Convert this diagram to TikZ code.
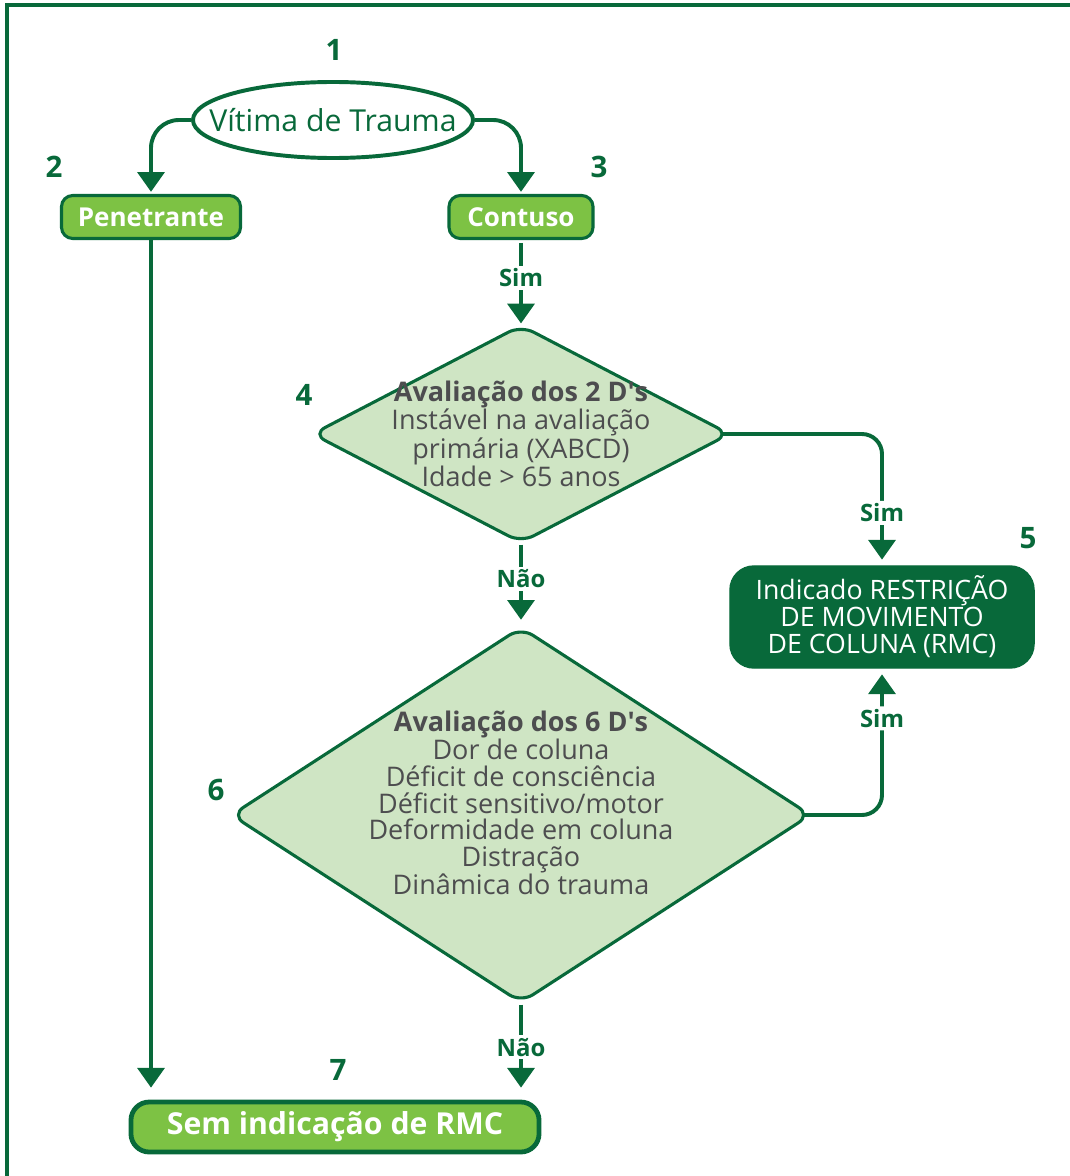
\documentclass[tikz,border=0pt]{standalone}
\usepackage{fontspec}
\setmainfont{Open Sans}
\usetikzlibrary{arrows.meta,positioning,calc,shapes.geometric}
\definecolor{rmcdark}{HTML}{08693A}
\definecolor{rmclight}{HTML}{7DC244}
\definecolor{rmcpale}{HTML}{CFE5C4}
\definecolor{rmcgray}{HTML}{4D4D4F}

\begin{document}
\begin{tikzpicture}[
    x=0.025cm, y=-0.025cm,
    font=\fontsize{19.2}{18.9}\selectfont,
    >={Triangle[width=19pt,length=14pt]},
    start/.style={
        ellipse,
        draw=rmcdark,
        fill=white,
        line width=2.8pt,
        minimum width=7cm,
        minimum height=1.9cm,
        inner sep=0pt
    },
    starttext/.style={
        text=rmcdark,
        inner sep=0pt,
        font=\fontsize{21.5}{24}\selectfont
    },
    lightbox/.style={
        draw=rmcdark,
        fill=rmclight,
        rounded corners=8pt,
        minimum height=1.075cm,
        line width=2.2pt,
        text=white,
        font=\bfseries\fontsize{18.5}{20}\selectfont
    },
    decision/.style={
        diamond,
        draw=rmcdark,
        fill=rmcpale,
        rounded corners=10pt,
        inner sep=0pt,
        line width=2.2pt
    },
    dtext/.style={
        align=center,
        text=rmcgray,
        inner sep=0pt
    },
    darkbox/.style={
        draw=rmcdark,
        fill=rmcdark,
        rounded corners=17pt,
        minimum width=7.6cm,
        minimum height=2.55cm,
        align=center,
        text=white,
        line width=1pt,
        font=\fontsize{19}{19.2}\selectfont
    },
    finalbox/.style={
        draw=rmcdark,
        fill=rmclight,
        rounded corners=13pt,
        minimum width=10.2cm,
        minimum height=1.25cm,
        line width=3.4pt,
        text=white,
        font=\bfseries\fontsize{21.5}{24}\selectfont
    },
    num/.style={text=rmcdark, font=\bfseries\fontsize{21}{24}\selectfont},
    lbl/.style={text=rmcdark, fill=white, inner sep=2pt,
        font=\bfseries\fontsize{17}{19}\selectfont},
    flow/.style={->,draw=rmcdark,line width=2.8pt}
]
\useasboundingbox (0,0) rectangle (1070,1176);

% Frame
\draw[rmcdark, line width=2.2pt] (7,1185) -- (7,5) -- (1080,5);

% Start and first split
\node[start] (vitima) at (333,120) {};
\node[starttext] (vitimatxt) at (vitima.center) {Vítima de Trauma};
\node[lightbox, minimum width=4.475cm] (penet) at (151,217) {Penetrante};
\node[lightbox, minimum width=3.6cm] (contuso) at (521,217) {Contuso};

% Decisions
\node[decision, minimum width=10.45cm, minimum height=5.45cm] (dois) at (521,434) {};
\node[dtext] (doistxt) at (dois.center) {\textbf{Avaliação dos 2 D\textquotesingle s}\\
    Instável na avaliação\\primária (XABCD)\\Idade > 65 anos};

\node[decision, minimum width=14.5cm, minimum height=9.4cm] (seis) at (521,815) {};
\node[dtext] (seistxt) at (521,803) {\textbf{Avaliação dos 6 D\textquotesingle s}\\
    Dor de coluna\\Déficit de consciência\\Déficit sensitivo/motor\\
    Deformidade em coluna\\Distração\\Dinâmica do trauma};

% Outcomes
\node[darkbox] (rmc) at (882,617) {Indicado RESTRIÇÃO\\DE MOVIMENTO\\DE COLUNA (RMC)};
\node[finalbox] (sem) at (335,1127) {Sem indicação de RMC};

% Step numbers
\node[num] (n1) at (334,50) {1};
\node[num] (n2) at (54,167) {2};
\node[num] (n3) at (599,167) {3};
\node[num] (n4) at (304,395) {4};
\node[num] (n5) at (1028,538) {5};
\node[num] (n6) at (216,790) {6};
\node[num] (n7) at (338,1070) {7};

% Connectors
\draw[flow, rounded corners=0.7cm, shorten >=1.5pt] (vitima.west) -| (penet.north);
\draw[flow, rounded corners=0.7cm, shorten >=1.5pt] (vitima.east) -| (contuso.north);
\draw[flow, shorten <=2pt] (contuso.south) -- node[lbl, pos=0.45] {Sim} (dois.north);
\draw[flow, shorten >=4pt] (dois.south) -- node[lbl, pos=0.42] {Não} (seis.north);
\draw[flow, rounded corners=0.5cm, shorten <=-7pt, shorten >=4pt] (dois.east) -| node[lbl, pos=0.8] {Sim} (rmc.north);
\draw[flow, rounded corners=0.5cm, shorten <=-7pt, shorten >=4pt] (seis.east) -| node[lbl, pos=0.83] {Sim} (rmc.south);
\draw[flow, shorten >=8.5pt] (seis.south) -- node[lbl, pos=0.45] {Não} (seis.south |- sem.north);
\draw[flow, shorten >=8.5pt] (penet.south) -- (penet.south |- sem.north);

\end{tikzpicture}
\end{document}
